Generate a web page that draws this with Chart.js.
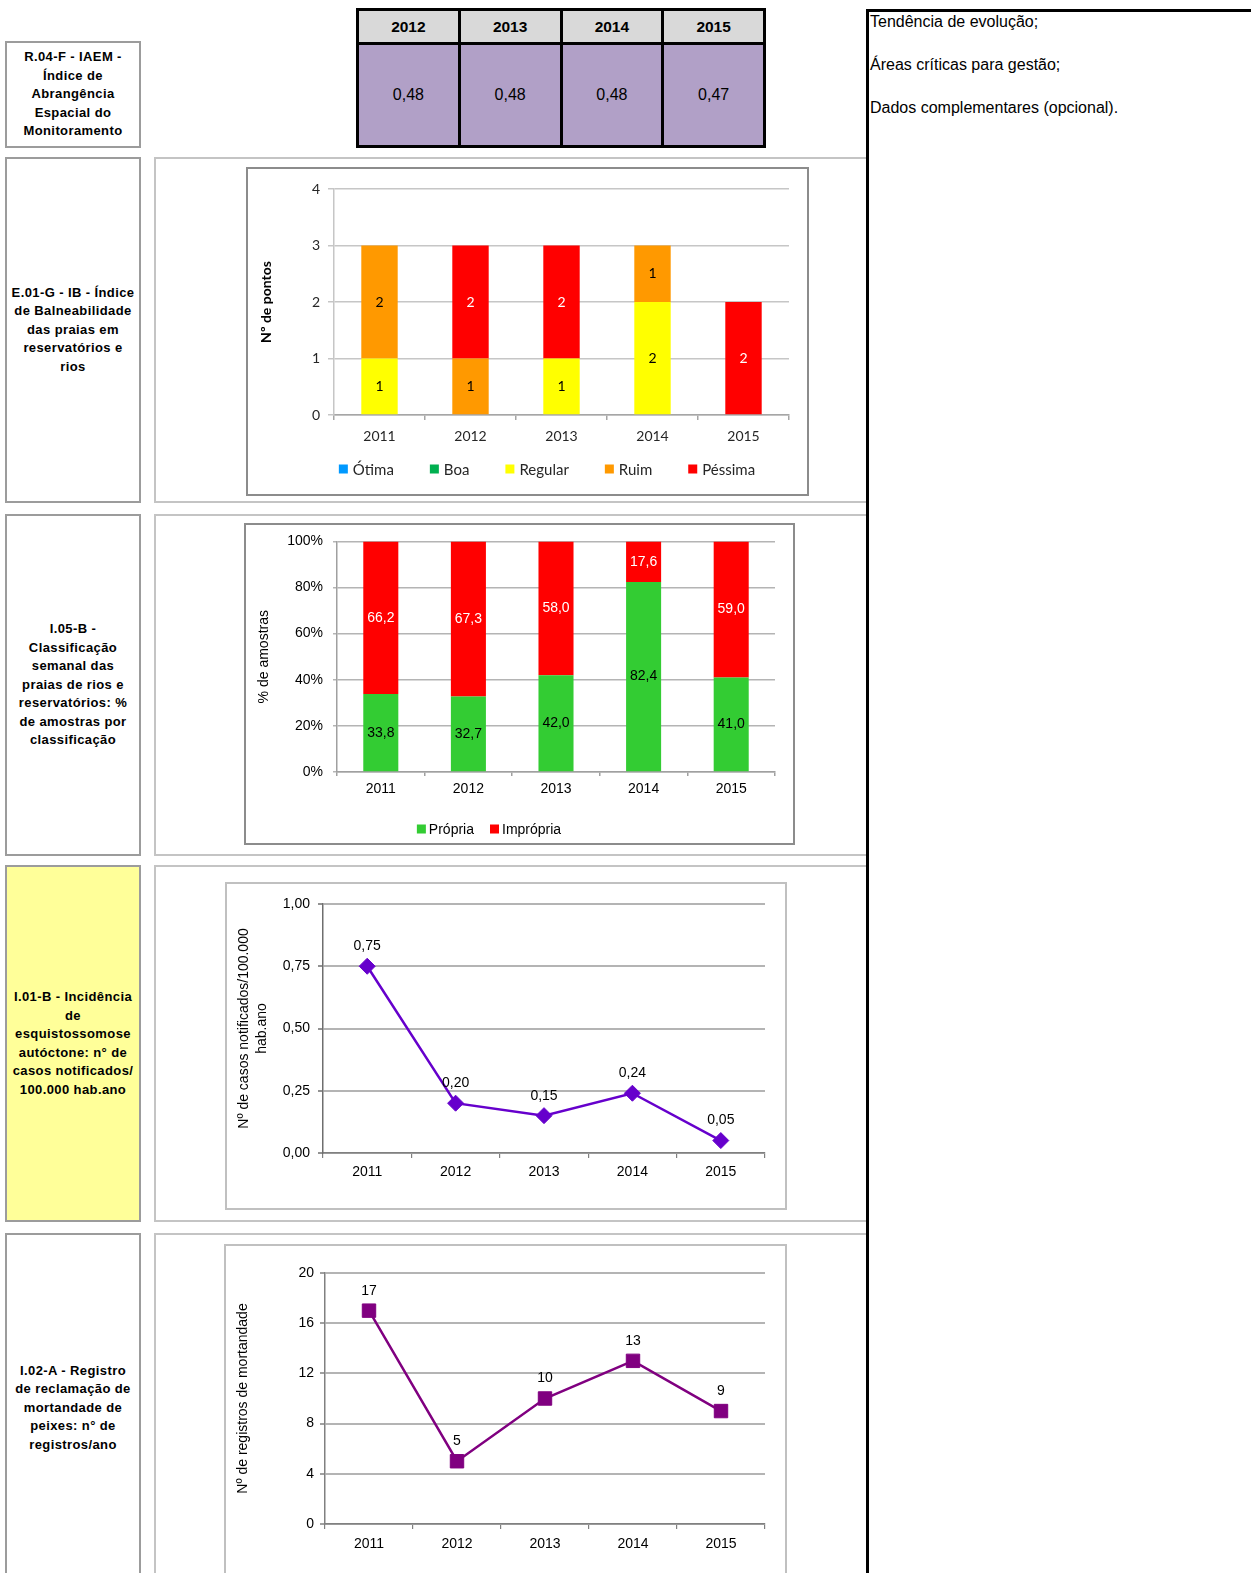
<!DOCTYPE html>
<html><head><meta charset="utf-8">
<script src="https://cdn.jsdelivr.net/npm/chart.js@4.4.0/dist/chart.umd.min.js"></script>
<style>
html,body{margin:0;padding:0;background:#fff;}
body{width:1251px;height:1573px;position:relative;overflow:hidden;font-family:"Liberation Sans",Arial,sans-serif;color:#000;}
.lbl{position:absolute;box-sizing:border-box;left:5px;width:136px;border:2px solid #9c9c9c;display:flex;align-items:center;justify-content:center;text-align:center;font-weight:bold;font-size:13px;line-height:18.5px;letter-spacing:0.4px;}
.frame{position:absolute;box-sizing:border-box;left:154px;width:714px;border:2px solid #c4c4c4;}
.cbox{position:absolute;box-sizing:border-box;pointer-events:none;}
canvas{position:absolute;}
#iaem{position:absolute;left:356px;top:8px;width:410px;height:140px;box-sizing:border-box;background:#000;padding:3px;display:grid;grid-template-columns:repeat(4,1fr);grid-template-rows:31px 1fr;gap:3px;}
#iaem .h{background:#d9d9d9;font-weight:bold;font-size:15.5px;display:flex;align-items:center;justify-content:center;padding-top:1px;}
#iaem .v{background:#b1a0c7;font-size:16px;display:flex;align-items:center;justify-content:center;}
.note{position:absolute;left:870px;font-size:16px;line-height:18px;white-space:nowrap;}
</style></head><body>

<div id="iaem"></div>

<div class="lbl" style="top:41px;height:107px;" id="L0"></div>
<div class="lbl" style="top:157px;height:346px;" id="L1"></div>
<div class="lbl" style="top:514px;height:342px;" id="L2"></div>
<div class="lbl" style="top:865px;height:357px;background:#ffff99;" id="L3"></div>
<div class="lbl" style="top:1233px;height:350px;" id="L4"></div>

<div class="frame" style="top:157px;height:346px;"></div>
<div class="frame" style="top:514px;height:342px;"></div>
<div class="frame" style="top:865px;height:357px;"></div>
<div class="frame" style="top:1233px;height:360px;"></div>

<canvas id="c1" width="563" height="329" style="left:246px;top:167px;"></canvas>
<div class="cbox" style="left:246px;top:167px;width:563px;height:329px;border:2px solid #8c8c8c;"></div>

<canvas id="c2" width="551" height="322" style="left:244px;top:523px;"></canvas>
<div class="cbox" style="left:244px;top:523px;width:551px;height:322px;border:2px solid #8c8c8c;"></div>

<canvas id="c3" width="562" height="328" style="left:225px;top:882px;"></canvas>
<div class="cbox" style="left:225px;top:882px;width:562px;height:328px;border:2px solid #c0c0c0;"></div>

<canvas id="c4" width="563" height="329" style="left:224px;top:1244px;"></canvas>
<div class="cbox" style="left:224px;top:1244px;width:563px;height:345px;border:2px solid #c0c0c0;"></div>

<div style="position:absolute;left:866px;top:9px;width:3px;height:1570px;background:#000;"></div>
<div style="position:absolute;left:866px;top:9px;width:385px;height:3px;background:#000;"></div>
<div id="notes"></div>

<script>
// ---------- DATA ----------
const years = ['2011', '2012', '2013', '2014', '2015'];
const iaemYears = ['2012', '2013', '2014', '2015'];
const iaemValues = [0.48, 0.48, 0.48, 0.47];

const ibOtima   = [0, 0, 0, 0, 0];
const ibBoa     = [0, 0, 0, 0, 0];
const ibRegular = [1, 0, 1, 2, 0];
const ibRuim    = [2, 1, 0, 1, 0];
const ibPessima = [0, 2, 2, 0, 2];

const propria   = [33.8, 32.7, 42.0, 82.4, 41.0];
const impropria = [66.2, 67.3, 58.0, 17.6, 59.0];

const esquistossomose = [0.75, 0.20, 0.15, 0.24, 0.05];
const mortandade = [17, 5, 10, 13, 9];

const rowLabels = [
  ['R.04-F - IAEM -', 'Índice de', 'Abrangência', 'Espacial do', 'Monitoramento'],
  ['E.01-G - IB - Índice', 'de Balneabilidade', 'das praias em', 'reservatórios e', 'rios'],
  ['I.05-B -', 'Classificação', 'semanal das', 'praias de rios e', 'reservatórios: %', 'de amostras por', 'classificação'],
  ['I.01-B - Incidência', 'de', 'esquistossomose', 'autóctone: n° de', 'casos notificados/', '100.000 hab.ano'],
  ['I.02-A - Registro', 'de reclamação de', 'mortandade de', 'peixes: n° de', 'registros/ano']
];
const notes = ['Tendência de evolução;', 'Áreas críticas para gestão;', 'Dados complementares (opcional).'];

// ---------- HELPERS ----------
const fmt = (v, d) => Number(v).toFixed(d).replace('.', ',');

const tbl = document.getElementById('iaem');
iaemYears.forEach(y => { const c = document.createElement('div'); c.className = 'h'; c.textContent = y; tbl.appendChild(c); });
iaemValues.forEach(v => { const c = document.createElement('div'); c.className = 'v'; c.textContent = fmt(v, 2); tbl.appendChild(c); });

rowLabels.forEach((lines, i) => {
  const el = document.getElementById('L' + i);
  const inner = document.createElement('div');
  lines.forEach((t, j) => { if (j) inner.appendChild(document.createElement('br')); inner.appendChild(document.createTextNode(t)); });
  el.appendChild(inner);
});
const notesEl = document.getElementById('notes');
notes.forEach((t, i) => { const d = document.createElement('div'); d.className = 'note'; d.style.top = (13 + i * 43) + 'px'; d.textContent = t; notesEl.appendChild(d); });

const valueLabelPlugin = {
  id: 'valueLabels',
  afterDatasetsDraw(chart, args, o) {
    if (!o || !o.enabled) return;
    const ctx = chart.ctx;
    ctx.save();
    ctx.font = o.font;
    ctx.textAlign = 'center';
    ctx.textBaseline = 'middle';
    chart.data.datasets.forEach((ds, di) => {
      const meta = chart.getDatasetMeta(di);
      meta.data.forEach((el, i) => {
        const v = ds.data[i];
        if (!v) return;
        ctx.fillStyle = (o.colors && o.colors[di]) || '#000';
        const y = o.mode === 'center' ? (el.y + el.base) / 2 : el.y - o.offset;
        ctx.fillText(fmt(v, o.decimals), el.x, y);
      });
    });
    ctx.restore();
  }
};

const legendPlugin = {
  id: 'boxLegend',
  afterDraw(chart, args, o) {
    if (!o || !o.enabled) return;
    const ctx = chart.ctx;
    ctx.save();
    ctx.font = o.font;
    ctx.textBaseline = 'middle';
    ctx.textAlign = 'left';
    const items = chart.data.datasets.map(d => ({ text: d.label, color: d.backgroundColor, w: ctx.measureText(d.label).width }));
    const total = items.reduce((s, it) => s + o.box + o.boxGap + it.w, 0) + o.itemGap * (items.length - 1);
    let x = o.centerX - total / 2;
    items.forEach(it => {
      ctx.fillStyle = it.color;
      ctx.fillRect(x, o.y - o.box / 2, o.box, o.box);
      x += o.box + o.boxGap;
      ctx.fillStyle = o.color;
      ctx.fillText(it.text, x, o.y + 1);
      x += it.w + o.itemGap;
    });
    ctx.restore();
  }
};

Chart.defaults.devicePixelRatio = 1;
const base = { responsive: false, animation: false, devicePixelRatio: 1 };
const lato = { family: 'Lato', size: 14 };
const arial = { family: 'Liberation Sans', size: 14 };

// ---------- CHART 1 ----------
new Chart(document.getElementById('c1'), {
  type: 'bar',
  data: {
    labels: years,
    datasets: [
      { label: 'Ótima', data: ibOtima, backgroundColor: '#0099ff' },
      { label: 'Boa', data: ibBoa, backgroundColor: '#00b050' },
      { label: 'Regular', data: ibRegular, backgroundColor: '#ffff00' },
      { label: 'Ruim', data: ibRuim, backgroundColor: '#ff9900' },
      { label: 'Péssima', data: ibPessima, backgroundColor: '#ff0000' }
    ]
  },
  options: Object.assign({}, base, {
    layout: { padding: { left: 0, right: 20, top: 22, bottom: 0 } },
    datasets: { bar: { categoryPercentage: 1, barPercentage: 0.4 } },
    plugins: {
      legend: { display: false }, tooltip: { enabled: false },
      valueLabels: { enabled: true, mode: 'center', decimals: 0, font: '14px Lato', colors: ['#000', '#000', '#000', '#000', '#fff'] },
      boxLegend: { enabled: true, centerX: 301, y: 302, box: 9, boxGap: 5, itemGap: 36, font: '15px Lato', color: '#262626' }
    },
    scales: {
      x: { stacked: true, afterFit: s => { s.height = 81; },
        grid: { offset: true, drawOnChartArea: false, tickLength: 5, color: '#a6a6a6', lineWidth: 1.5 },
        border: { color: '#a6a6a6', width: 1.5 },
        ticks: { padding: 8, color: '#262626', font: lato } },
      y: { stacked: true, min: 0, max: 4, afterFit: s => { s.width = 88; },
        ticks: { stepSize: 1, padding: 8, color: '#262626', font: lato },
        grid: { color: '#c6c6c6', lineWidth: 1.5, tickLength: 6 },
        border: { color: '#c6c6c6', width: 1.5 },
        title: { display: true, text: 'Nº de pontos', color: '#000', font: { family: 'Lato', size: 14, weight: 'bold' }, padding: { top: 12, bottom: 0 } } }
    }
  }),
  plugins: [valueLabelPlugin, legendPlugin]
});

// ---------- CHART 2 ----------
new Chart(document.getElementById('c2'), {
  type: 'bar',
  data: {
    labels: years,
    datasets: [
      { label: 'Própria', data: propria, backgroundColor: '#33cc33' },
      { label: 'Imprópria', data: impropria, backgroundColor: '#ff0000' }
    ]
  },
  options: Object.assign({}, base, {
    layout: { padding: { left: 0, right: 20, top: 18, bottom: 0 } },
    datasets: { bar: { categoryPercentage: 1, barPercentage: 0.4 } },
    plugins: {
      legend: { display: false }, tooltip: { enabled: false },
      valueLabels: { enabled: true, mode: 'center', decimals: 1, font: '14px "Liberation Sans"', colors: ['#000', '#fff'] },
      boxLegend: { enabled: true, centerX: 245, y: 306, box: 9, boxGap: 3, itemGap: 16, font: '14px "Liberation Sans"', color: '#000' }
    },
    scales: {
      x: { stacked: true, afterFit: s => { s.height = 73; },
        grid: { offset: true, drawOnChartArea: false, tickLength: 4, color: '#a0a0a0', lineWidth: 1.5 },
        border: { color: '#a0a0a0', width: 1.5 },
        ticks: { padding: 5, color: '#000', font: arial } },
      y: { stacked: true, min: 0, max: 100, afterFit: s => { s.width = 93; },
        ticks: { stepSize: 20, padding: 10, color: '#000', font: arial, callback: v => v + '%' },
        grid: { color: '#b4b4b4', lineWidth: 1.5, tickLength: 4 },
        border: { color: '#a0a0a0', width: 1.5 },
        title: { display: true, text: '% de amostras', color: '#000', font: arial, padding: { top: 12, bottom: 0 } } }
    }
  }),
  plugins: [valueLabelPlugin, legendPlugin]
});

// ---------- CHART 3 ----------
new Chart(document.getElementById('c3'), {
  type: 'line',
  data: {
    labels: years,
    datasets: [{ label: 'Incidência', data: esquistossomose, borderColor: '#6600cc', backgroundColor: '#6600cc',
      borderWidth: 2.5, tension: 0, pointStyle: 'rectRot', pointRadius: 8, pointBorderWidth: 1, pointBackgroundColor: '#6600cc', pointBorderColor: '#6600cc' }]
  },
  options: Object.assign({}, base, {
    layout: { padding: { left: 0, right: 22, top: 22, bottom: 0 } },
    plugins: {
      legend: { display: false }, tooltip: { enabled: false },
      valueLabels: { enabled: true, mode: 'above', offset: 20, decimals: 2, font: '14px "Liberation Sans"', colors: ['#000'] }
    },
    scales: {
      x: { offset: true, afterFit: s => { s.height = 57; },
        grid: { offset: true, drawOnChartArea: false, tickLength: 5, color: '#808080', lineWidth: 1.2 },
        border: { color: '#808080', width: 1.5 },
        ticks: { padding: 6, color: '#000', font: arial } },
      y: { min: 0, max: 1, afterFit: s => { s.width = 98; },
        ticks: { stepSize: 0.25, padding: 8, color: '#000', font: arial, callback: v => fmt(v, 2) },
        grid: { color: '#b4b4b4', lineWidth: 2, tickLength: 5, tickColor: '#6e6e6e', tickWidth: 1.5 },
        border: { color: '#6e6e6e', width: 1.5 },
        title: { display: true, text: ['Nº de casos notificados/100.000', 'hab.ano'], color: '#000',
          font: { family: 'Liberation Sans', size: 14, lineHeight: 1.3 }, padding: { top: 10, bottom: 0 } } }
    }
  }),
  plugins: [valueLabelPlugin]
});

// ---------- CHART 4 ----------
new Chart(document.getElementById('c4'), {
  type: 'line',
  data: {
    labels: years,
    datasets: [{ label: 'Mortandade', data: mortandade, borderColor: '#800080', backgroundColor: '#800080',
      borderWidth: 2.5, tension: 0, pointStyle: 'rect', pointRadius: 9.5, pointBorderWidth: 1, pointBackgroundColor: '#800080', pointBorderColor: '#800080' }]
  },
  options: Object.assign({}, base, {
    layout: { padding: { left: 0, right: 22, top: 29, bottom: 0 } },
    plugins: {
      legend: { display: false }, tooltip: { enabled: false },
      valueLabels: { enabled: true, mode: 'above', offset: 20, decimals: 0, font: '14px "Liberation Sans"', colors: ['#000'] }
    },
    scales: {
      x: { offset: true, afterFit: s => { s.height = 49; },
        grid: { offset: true, drawOnChartArea: false, tickLength: 5, color: '#808080', lineWidth: 1.2 },
        border: { color: '#808080', width: 1.5 },
        ticks: { padding: 7, color: '#000', font: arial } },
      y: { min: 0, max: 20, afterFit: s => { s.width = 101; },
        ticks: { stepSize: 4, padding: 6, color: '#000', font: arial },
        grid: { color: '#b4b4b4', lineWidth: 2, tickLength: 5, tickColor: '#808080', tickWidth: 1.5 },
        border: { color: '#808080', width: 1.5 },
        title: { display: true, text: 'Nº de registros de mortandade', color: '#000', font: arial, padding: { top: 11, bottom: 0 } } }
    }
  }),
  plugins: [valueLabelPlugin]
});
</script>
</body></html>
